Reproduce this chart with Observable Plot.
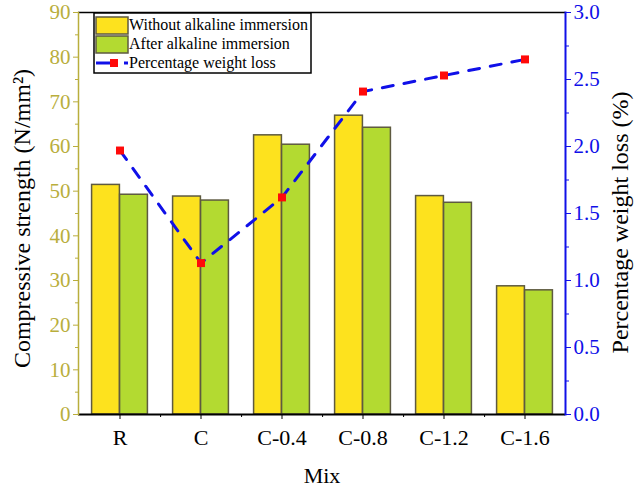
<!DOCTYPE html>
<html>
<head>
<meta charset="utf-8">
<script src="https://cdn.jsdelivr.net/npm/d3@7"></script>
<script src="https://cdn.jsdelivr.net/npm/@observablehq/plot@0.6"></script>
<style>
  html, body { margin: 0; padding: 0; background: #fff; }
  #chart svg { display: block; }
</style>
</head>
<body>
<div id="chart"></div>
<script>
// Mixes and measured values
const mixes = ["R", "C", "C-0.4", "C-0.8", "C-1.2", "C-1.6"];
const strengthWithout = [51.4, 48.8, 62.5, 66.9, 48.9, 28.7];   // N/mm², without alkaline immersion
const strengthAfter = [49.2, 47.9, 60.4, 64.2, 47.4, 27.8];     // N/mm², after alkaline immersion
const weightLoss = [1.97, 1.13, 1.62, 2.41, 2.53, 2.65];        // %
const strengthTicks = [0, 10, 20, 30, 40, 50, 60, 70, 80, 90];
const lossTicks = [0, 0.5, 1.0, 1.5, 2.0, 2.5, 3.0];
const seriesNames = ["Without alkaline immersion", "After alkaline immersion", "Percentage weight loss"];

const rows = mixes.map((mix, i) => ({
  mix,
  without: strengthWithout[i],
  after: strengthAfter[i],
  loss: weightLoss[i]
}));

// Secondary axis: weight loss (0–3 %) shares the strength scale (0–90)
const ratio = 90 / 3;

const W = 642, H = 495;
const mL = 78, mR = 77, mT = 12, mB = 81;
const band = (W - mL - mR) / mixes.length;
const barW = 28;
const inset = (band - barW) / 2;

const yellow = "#fde21e", green = "#b3da31", edge = "#5e5a40";
const olive = "#b9ae3c", blue = "#1010e8", red = "#ff0a0a";
const font = "'Liberation Serif', 'Times New Roman', serif";

const between = mixes.slice(0, -1);

const chart = Plot.plot({
  width: W,
  height: H,
  marginLeft: mL,
  marginRight: mR,
  marginTop: mT,
  marginBottom: mB,
  style: { fontFamily: font, fontSize: "21px", background: "#fff" },
  x: { type: "band", domain: mixes, padding: 0 },
  y: { domain: [0, 90], nice: false },
  marks: [
    Plot.barY(rows, { x: "mix", y: "without", fill: yellow, stroke: edge, strokeWidth: 1.5,
      insetLeft: inset, insetRight: inset, dx: -barW / 2 }),
    Plot.barY(rows, { x: "mix", y: "after", fill: green, stroke: edge, strokeWidth: 1.5,
      insetLeft: inset, insetRight: inset, dx: barW / 2 }),
    Plot.ruleY([90], { stroke: "#000", strokeWidth: 1.5 }),
    Plot.ruleY([0], { stroke: "#000", strokeWidth: 2 }),
    Plot.frame({ anchor: "left", stroke: olive, strokeWidth: 1.5 }),
    Plot.frame({ anchor: "right", stroke: blue, strokeWidth: 2 }),

    // left axis (strength)
    Plot.axisY({ anchor: "left", ticks: strengthTicks, tickSize: 5, tickPadding: 3,
      color: olive, fontSize: 21, label: null }),
    Plot.axisY({ anchor: "left", ticks: strengthTicks.slice(0, -1).map(v => v + 5), tickSize: 3,
      text: null, color: olive, label: null }),

    // right axis (weight loss)
    Plot.axisY({ anchor: "right", ticks: lossTicks.map(v => v * ratio), tickSize: 5, tickPadding: 3,
      tickFormat: d => (d / ratio).toFixed(1), color: blue, fontSize: 21, label: null }),
    Plot.axisY({ anchor: "right", ticks: lossTicks.slice(0, -1).map(v => (v + 0.25) * ratio), tickSize: 3,
      text: null, color: blue, label: null }),

    // bottom axis
    Plot.axisX({ ticks: mixes, tickSize: 5, tickPadding: 10, color: "#000", fontSize: 22, label: null }),
    Plot.axisX({ ticks: between, tickSize: 3, text: null, dx: band / 2, color: "#000", label: null }),

    // weight loss series
    Plot.line(rows, { x: "mix", y: d => d.loss * ratio, stroke: blue, strokeWidth: 3,
      strokeDasharray: "11,11" }),
    Plot.dot(rows, { x: "mix", y: d => d.loss * ratio, symbol: "square", fill: red, r: 4.5 }),

    // axis titles
    Plot.text(["Compressive strength (N/mm²)"], { frameAnchor: "left", dx: -56, dy: 5, rotate: -90,
      textAnchor: "middle", fontSize: 24, fill: "#000" }),
    Plot.text(["Percentage weight loss (%)"], { frameAnchor: "right", dx: 55, dy: 9, rotate: -90,
      textAnchor: "middle", fontSize: 24, fill: "#000" }),
    Plot.text(["Mix"], { frameAnchor: "bottom", dy: 68, fontSize: 22, fill: "#000" })
  ]
});

document.getElementById("chart").appendChild(chart);

// Legend box in the upper-left corner of the plot area
const svg = d3.select(chart);
const lg = svg.append("g").attr("transform", `translate(${mL + 16},${mT + 1})`)
  .attr("font-family", font).attr("font-size", 16).attr("text-anchor", "start");
lg.append("rect").attr("x", 0).attr("y", 0).attr("width", 217).attr("height", 60)
  .attr("fill", "#fff").attr("stroke", "#000").attr("stroke-width", 1.5);
lg.append("rect").attr("x", 2).attr("y", 4).attr("width", 32).attr("height", 17)
  .attr("fill", yellow).attr("stroke", edge).attr("stroke-width", 1.5);
lg.append("rect").attr("x", 2).attr("y", 23).attr("width", 32).attr("height", 17)
  .attr("fill", green).attr("stroke", edge).attr("stroke-width", 1.5);
lg.append("line").attr("x1", 2).attr("x2", 16).attr("y1", 50).attr("y2", 50)
  .attr("stroke", blue).attr("stroke-width", 3);
lg.append("rect").attr("x", 16).attr("y", 46).attr("width", 8).attr("height", 8).attr("fill", red);
lg.append("line").attr("x1", 30).attr("x2", 34).attr("y1", 50).attr("y2", 50)
  .attr("stroke", blue).attr("stroke-width", 3);
seriesNames.forEach((name, i) => {
  lg.append("text").attr("x", 35).attr("y", 17 + i * 19).text(name).attr("fill", "#000");
});
</script>
</body>
</html>
